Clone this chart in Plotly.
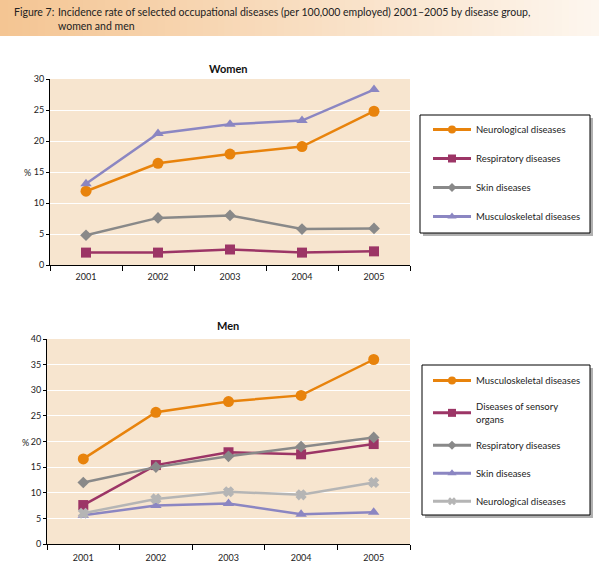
import plotly.graph_objects as go

years = ["2001", "2002", "2003", "2004", "2005"]

women_neuro = [11.9, 16.4, 17.9, 19.1, 24.8]
women_resp = [2.0, 2.0, 2.5, 2.0, 2.2]
women_skin = [4.8, 7.6, 8.0, 5.8, 5.9]
women_musc = [13.1, 21.2, 22.7, 23.3, 28.3]

men_musc = [16.6, 25.7, 27.8, 29.0, 36.0]
men_sensory = [7.6, 15.4, 17.9, 17.5, 19.5]
men_resp = [12.0, 15.0, 17.1, 19.0, 20.8]
men_skin = [5.6, 7.5, 7.9, 5.8, 6.2]
men_neuro = [6.0, 8.8, 10.2, 9.6, 12.0]

title_line = "Incidence rate of selected occupational diseases (per 100,000 employed) 2001\u20132005 by disease group,<br>women and men"

ORANGE = "#e8830c"
MAROON = "#9c3566"
GRAY = "#898989"
PURPLE = "#8b86c2"
LGRAY = "#b5b5b5"
BG = "#f7e5cf"
FONT = "Lato"

W, H = 599, 567
def px(x):
    return x / W
def py(y):
    return 1 - y / H

fig = go.Figure()

def add(x, y, name, color, symbol, xa, ya, legend, size=10, lsize=8, mline=0):
    fig.add_trace(go.Scatter(
        x=x, y=y, name=name, mode="lines+markers",
        line=dict(color=color, width=2.5),
        marker=dict(color=color, symbol=symbol, size=size, line=dict(width=mline, color=color)),
        xaxis=xa, yaxis=ya, showlegend=False,
    ))
    # legend-only entry with a smaller marker
    fig.add_trace(go.Scatter(
        x=[None], y=[None], name=name, mode="lines+markers",
        line=dict(color=color, width=3),
        marker=dict(color=color, symbol=symbol, size=lsize, line=dict(width=0, color=color)),
        xaxis=xa, yaxis=ya, legend=legend, legendgroup=name + legend, showlegend=True,
    ))

add(years, women_neuro, "Neurological diseases", ORANGE, "circle", "x", "y", "legend", 11, 8)
add(years, women_resp, "Respiratory diseases", MAROON, "square", "x", "y", "legend", 10, 8)
add(years, women_skin, "Skin diseases", GRAY, "diamond", "x", "y", "legend", 9, 7)
add(years, women_musc, "Musculoskeletal diseases", PURPLE, "triangle-up", "x", "y", "legend", 10, 8)

add(years, men_musc, "Musculoskeletal diseases", ORANGE, "circle", "x2", "y2", "legend2", 11, 8)
add(years, men_sensory, "Diseases of sensory<br>organs", MAROON, "square", "x2", "y2", "legend2", 10, 8)
add(years, men_resp, "Respiratory diseases", GRAY, "diamond", "x2", "y2", "legend2", 9, 7)
add(years, men_skin, "Skin diseases", PURPLE, "triangle-up", "x2", "y2", "legend2", 10, 8)
add(years, men_neuro, "Neurological diseases", LGRAY, "x", "x2", "y2", "legend2", 8, 7, mline=1.5)

shapes = []
# banner gradient
n = 80
c0 = (244, 197, 147)
c1 = (253, 246, 238)
for i in range(n):
    t = i / (n - 1)
    c = tuple(int(round(c0[k] + (c1[k] - c0[k]) * t)) for k in range(3))
    shapes.append(dict(type="rect", xref="paper", yref="paper",
                       x0=i / n, x1=(i + 1) / n + 0.002, y0=py(36), y1=1,
                       fillcolor="rgb(%d,%d,%d)" % c, line=dict(width=0), layer="below"))

# legend boxes with shadow
for (l, t, r, b) in [(420, 115, 590, 233), (422, 365, 590, 515)]:
    shapes.append(dict(type="rect", xref="paper", yref="paper",
                       x0=px(l + 3), x1=px(r + 3), y0=py(b + 3), y1=py(t + 3),
                       fillcolor="#b0b0b0", line=dict(width=0)))
    shapes.append(dict(type="rect", xref="paper", yref="paper",
                       x0=px(l), x1=px(r), y0=py(b), y1=py(t),
                       fillcolor="white", line=dict(width=1, color="black")))

tickfont = dict(size=9, color="#222", family=FONT)

def xax(dom, anchor, standoff):
    return dict(domain=dom, anchor=anchor, type="category", range=[-0.5, 4.5],
                tickson="boundaries", showgrid=False, automargin=False,
                showline=True, linecolor="black", linewidth=1,
                ticks="outside", ticklen=5, tickcolor="black", tickfont=tickfont,
                ticklabelstandoff=standoff)

def yax(dom, anchor, rng):
    return dict(domain=dom, anchor=anchor, range=rng, dtick=5, automargin=False,
                showgrid=True, gridcolor="white", gridwidth=1.2, zeroline=False,
                showline=True, linecolor="black", linewidth=1,
                ticks="outside", ticklen=3, tickcolor="black", tickfont=tickfont)

legend_common = dict(xanchor="left", yanchor="top", bgcolor="rgba(0,0,0,0)",
                     borderwidth=0, font=dict(size=9.5, family=FONT, color="#222"),
                     traceorder="grouped", itemwidth=38)

fig.update_layout(
    template="none",
    width=W, height=H,
    margin=dict(l=0, r=0, t=0, b=0),
    paper_bgcolor="white",
    plot_bgcolor=BG,
    font=dict(family=FONT, color="#222"),
    shapes=shapes,
    xaxis=xax([px(50), px(410)], "y", 3),
    yaxis=yax([py(265), py(79)], "x", [0, 30]),
    xaxis2=xax([px(47), px(410)], "y2", 5),
    yaxis2=yax([py(544), py(339)], "x2", [0, 40]),
    legend=dict(x=px(428), y=py(115), tracegroupgap=10, **legend_common),
    legend2=dict(x=px(428), y=py(366), tracegroupgap=9, **legend_common),
    annotations=[
        dict(text="Figure 7:", xref="paper", yref="paper", x=px(12), y=py(3.5),
             xanchor="left", yanchor="top", showarrow=False, align="left",
             font=dict(size=10.5, family=FONT, color="#222")),
        dict(text=title_line, xref="paper", yref="paper", x=px(56), y=py(3.5),
             xanchor="left", yanchor="top", showarrow=False, align="left",
             font=dict(size=10.5, family=FONT, color="#222")),
        dict(text="<b>Women</b>", xref="paper", yref="paper", x=px(228), y=py(69),
             xanchor="center", yanchor="middle", showarrow=False,
             font=dict(size=11, family=FONT, color="#111")),
        dict(text="<b>Men</b>", xref="paper", yref="paper", x=px(228), y=py(325),
             xanchor="center", yanchor="middle", showarrow=False,
             font=dict(size=11, family=FONT, color="#111")),
        dict(text="%", xref="paper", yref="paper", x=px(27), y=py(172),
             xanchor="center", yanchor="middle", showarrow=False,
             font=dict(size=9, family=FONT, color="#222")),
        dict(text="%", xref="paper", yref="paper", x=px(25), y=py(442),
             xanchor="center", yanchor="middle", showarrow=False,
             font=dict(size=9, family=FONT, color="#222")),
    ],
)

fig.write_html("out.html", config={"displayModeBar": False},
               post_script="document.body.style.margin='0';document.body.style.overflow='hidden';")
